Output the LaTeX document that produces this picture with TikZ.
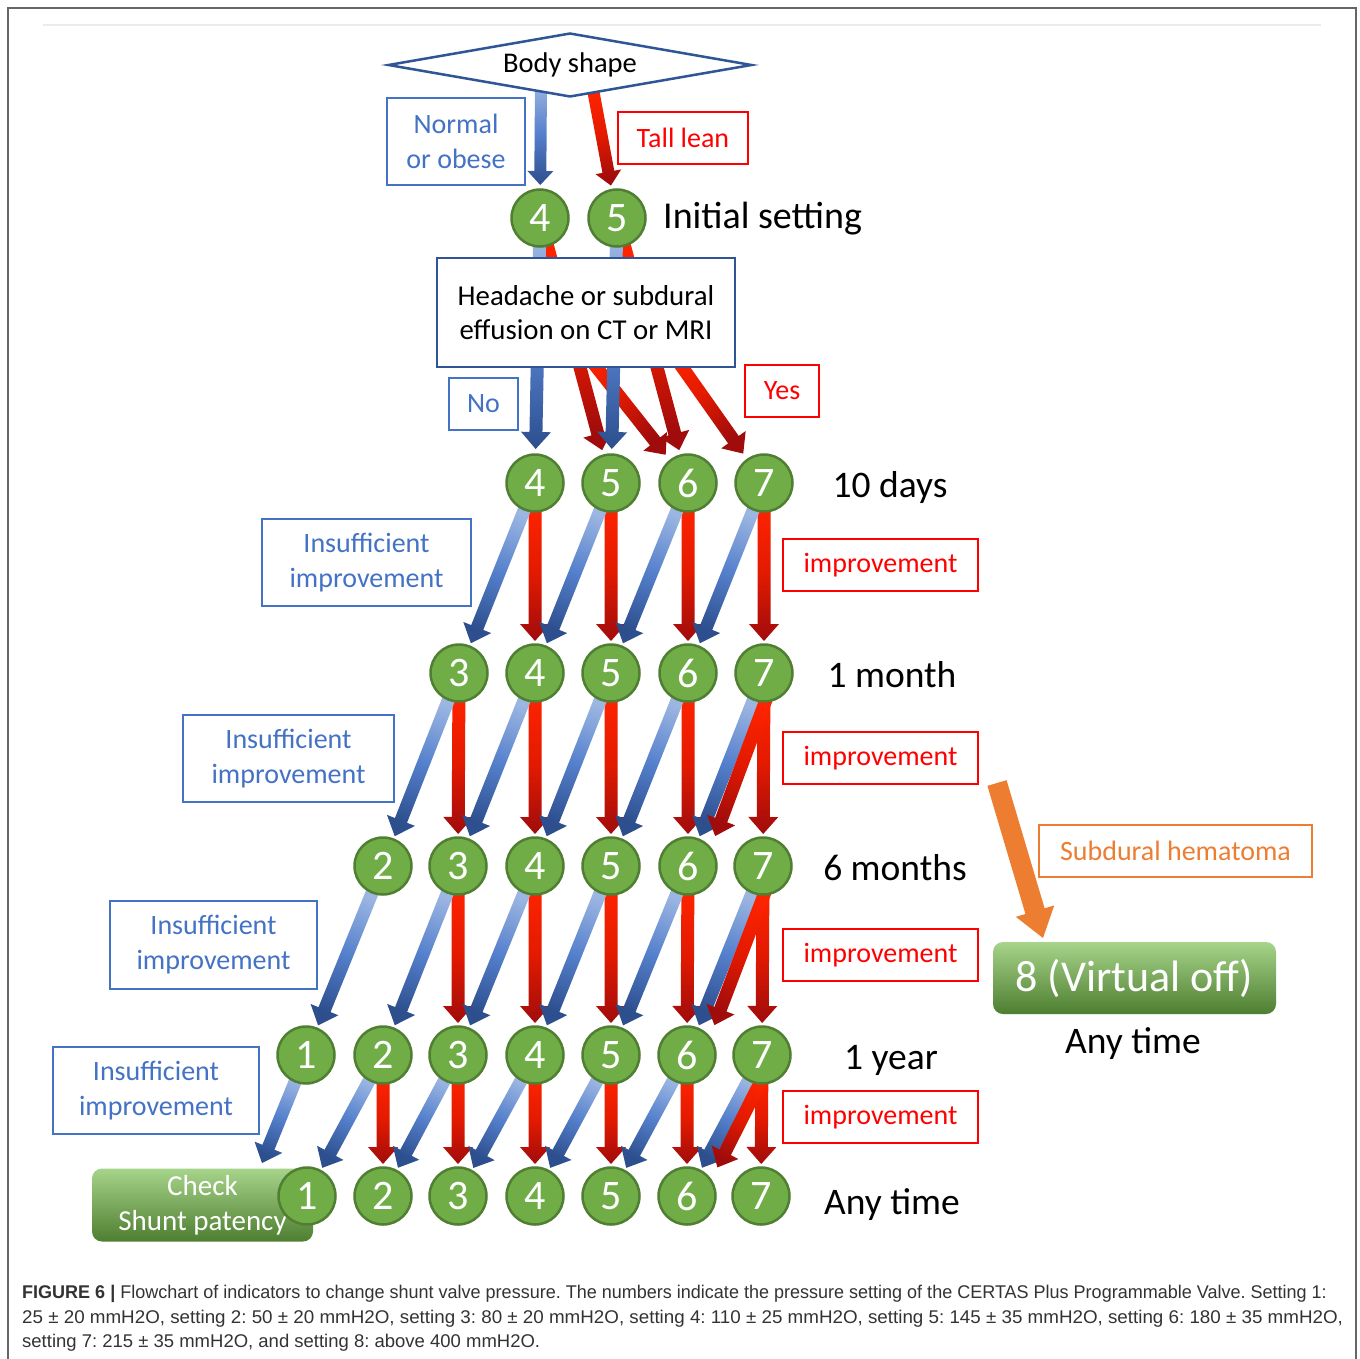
\documentclass[tikz,border=0pt]{standalone}
\usepackage{fontspec}
\setmainfont{Carlito}
\newfontfamily\capfont{Liberation Sans}
\usetikzlibrary{shapes.geometric,calc}
\pgfdeclarelayer{bg}
\pgfdeclarelayer{arrows}
\pgfsetlayers{bg,arrows,main}
\frenchspacing

\definecolor{cgreen}{HTML}{70AD47}
\definecolor{cgreenD}{HTML}{507E32}
\definecolor{lblue}{HTML}{4472C4}
\definecolor{dblue}{HTML}{2F5597}
\definecolor{cred}{HTML}{FF0000}
\definecolor{corange}{HTML}{ED7D31}
\definecolor{bl1}{HTML}{9CB6E2}
\definecolor{bl2}{HTML}{5580CC}
\definecolor{bl3}{HTML}{2D4F8E}
\definecolor{rd1}{HTML}{FF2400}
\definecolor{rd2}{HTML}{E31A00}
\definecolor{rd3}{HTML}{A00C0C}
\definecolor{gtop}{HTML}{A6D48A}
\definecolor{gmid}{HTML}{72B048}
\definecolor{gbot}{HTML}{4E7E30}
\definecolor{capc}{HTML}{333333}
\definecolor{framec}{HTML}{666666}

\newcommand\shaftw{6.5pt}
\newcommand\headw{15pt}
\newcommand\headlen{17}
\newcommand\baSang{0}

\makeatletter
% [style]{from}{to}{start offset}{end offset}
\newcommand\blockarrow[5][]{%
  \pgfpointdiff{\pgfpointanchor{#2}{center}}{\pgfpointanchor{#3}{center}}%
  \edef\ba@dx{\the\pgf@x}\edef\ba@dy{\the\pgf@y}%
  \pgfmathsetmacro\ba@ang{atan2(\ba@dy,\ba@dx)}%
  \pgfmathsetmacro\ba@len{veclen(\ba@dx,\ba@dy)}%
  \pgfmathsetmacro\baSang{\ba@ang+90}%
  \pgfmathsetlengthmacro\ba@e{\ba@len-#5}%
  \pgfmathsetlengthmacro\ba@n{\ba@len-#5-\headlen}%
  \pgfmathsetlengthmacro\ba@s{#4}%
  \begin{scope}[shift={(#2)}, rotate=\ba@ang]
    \path[#1] (\ba@s,\shaftw) -- (\ba@n,\shaftw) -- (\ba@n,\headw)
      -- (\ba@e,0pt) -- (\ba@n,-\headw) -- (\ba@n,-\shaftw) -- (\ba@s,-\shaftw) -- cycle;
  \end{scope}}
\makeatother

\tikzset{
  num/.style={circle, fill=cgreen, draw=cgreenD, line width=2.5pt, minimum size=57pt,
    inner sep=0pt, text=white, font=\fontsize{42}{42}\selectfont},
  lab/.style={line width=2pt, align=center, inner sep=0pt, font=\fontsize{28}{35}\selectfont},
  bluelab/.style={lab, draw=lblue, text=lblue},
  redlab/.style={lab, draw=cred, text=cred},
  orangelab/.style={lab, draw=corange, text=corange},
  rowlab/.style={anchor=base, inner sep=0pt, font=\fontsize{37.5}{37.5}\selectfont},
  gbox/.style={rounded corners=10pt, top color=gtop, middle color=gmid, bottom color=gbot,
    text=white, align=center, inner sep=0pt},
  bluearr/.style={top color=bl1, bottom color=bl3, middle color=bl2, shading angle=\baSang},
  redarr/.style={top color=rd1, bottom color=rd3, middle color=rd2, shading angle=\baSang},
  orangearr/.style={fill=corange},
  capline/.style={anchor=base west, inner sep=0pt, text=capc,
    font=\capfont\fontsize{18.4}{24}\selectfont},
}

\begin{document}
\begin{tikzpicture}[x=1pt,y=-1pt]
\useasboundingbox (0,0) rectangle (1360,1359);
\begin{pgfonlayer}{bg}
\fill[white] (0,0) rectangle (1360,1359);
\end{pgfonlayer}
% frame
\draw[framec, line width=1.5pt] (8,1365) -- (8,8) -- (1356,8) -- (1356,1365);
\draw[black!8, line width=1.5pt] (43,25) -- (1321,25);

% decision nodes
\node[diamond, draw=dblue, line width=2.5pt, fill=white, minimum width=364pt, minimum height=64pt,
  aspect=5.7, inner sep=0pt, font=\fontsize{28.5}{28.5}\selectfont] (body) at (570,65) {Body shape};
\node[draw=dblue, line width=2.5pt, fill=white, minimum width=298pt, minimum height=109pt,
  align=center, inner sep=0pt, font=\fontsize{28.8}{34}\selectfont] (head) at (586,312.5)
  {Headache or subdural\\effusion on CT or MRI};

% helper coordinates (free arrow ends)
\coordinate (bs1) at (541,82);
\coordinate (bs2) at (592,84);
\coordinate (ys1) at (575,340);
\coordinate (ys2) at (663,340);

% circles
\node[num] (i4) at (540,218) {4};
\node[num] (i5) at (617,218) {5};
\foreach \k/\x in {4/535,5/611,6/688,7/764} \node[num] (d\k) at (\x,483) {\k};
\foreach \k/\x in {3/459,4/535,5/611,6/688,7/764} \node[num] (m\k) at (\x,673) {\k};
\foreach \k/\x in {2/383,3/458,4/535,5/611,6/688,7/763} \node[num] (s\k) at (\x,866) {\k};
\foreach \k/\x in {1/306,2/383,3/458,4/535,5/611,6/687,7/762} \node[num] (y\k) at (\x,1055) {\k};
\node[gbox, minimum width=221pt, minimum height=73pt, font=\fontsize{29}{35}\selectfont]
  (check) at (202.5,1205) {Check\\Shunt patency};
\foreach \k/\x in {1/307,2/383,3/458,4/535,5/611,6/687,7/761} \node[num] (a\k) at (\x,1196) {\k};
\coordinate (chk) at (262,1163);

% offset points for the red diagonals 7 -> 6
\coordinate (m7r) at ($(m7)+(12,0)$);
\coordinate (s6r) at ($(s6)+(16,0)$);
\coordinate (s7r) at ($(s7)+(12,0)$);
\coordinate (y6r) at ($(y6)+(16,0)$);
\coordinate (y7r) at ($(y7)+(12,0)$);
\coordinate (a6r) at ($(a6)+(16,0)$);

% labels
\node[bluelab, minimum width=138pt, minimum height=87pt] (lnorm) at (456,141.5) {Normal\\or obese};
\node[redlab, minimum width=130pt, minimum height=52pt] (ltall) at (683,138) {Tall lean};
\node[bluelab, minimum width=69pt, minimum height=52pt] (lno) at (483.5,404) {No};
\node[redlab, minimum width=74pt, minimum height=52pt] (lyes) at (782,391) {Yes};
\node[bluelab, minimum width=209pt, minimum height=87pt] (li1) at (366.5,562.5) {Insufficient\\improvement};
\node[bluelab, minimum width=211pt, minimum height=87pt] (li2) at (288.5,758.5) {Insufficient\\improvement};
\node[bluelab, minimum width=207pt, minimum height=88pt] (li3) at (213.5,945) {Insufficient\\improvement};
\node[bluelab, minimum width=206pt, minimum height=87pt] (li4) at (156,1090.5) {Insufficient\\improvement};
\node[redlab, minimum width=195pt, minimum height=52pt] (lr1) at (880.5,565) {improvement};
\node[redlab, minimum width=195pt, minimum height=52pt] (lr2) at (880.5,758) {improvement};
\node[redlab, minimum width=195pt, minimum height=52pt] (lr3) at (880.5,955) {improvement};
\node[redlab, minimum width=195pt, minimum height=52pt] (lr4) at (880.5,1117) {improvement};
\node[orangelab, minimum width=273pt, minimum height=52pt] (lsub) at (1175.5,851) {Subdural hematoma};

% row labels
\node[anchor=base west, inner sep=0pt, font=\fontsize{38}{38}\selectfont] (tinit) at (663,228.5) {Initial setting};
\node[rowlab] (t10d) at (890,497) {10 days};
\node[rowlab] (t1m) at (892,687) {1 month};
\node[rowlab] (t6m) at (895,880) {6 months};
\node[rowlab] (t1y) at (891,1069) {1 year};
\node[rowlab] (tany) at (892,1214) {Any time};

% virtual off
\node[gbox, minimum width=283pt, minimum height=72pt, font=\fontsize{44}{44}\selectfont]
  (voff) at (1134.5,978) {8 (Virtual off)};
\node[rowlab] (tany2) at (1133,1053) {Any time};
\coordinate (os) at (997,783);
\coordinate (oe) at (1043,938);

% caption
\node[capline] (cap1) at (22,1298) {\scalebox{0.979}[1]{\textbf{FIGURE 6 |} Flowchart of indicators to change shunt valve pressure. The numbers indicate the pressure setting of the CERTAS Plus Programmable Valve. Setting 1:}};
\node[capline] (cap2) at (22,1323) {\scalebox{1.021}[1]{25 ± 20 mmH2O, setting 2: 50 ± 20 mmH2O, setting 3: 80 ± 20 mmH2O, setting 4: 110 ± 25 mmH2O, setting 5: 145 ± 35 mmH2O, setting 6: 180 ± 35 mmH2O,}};
\node[capline] (cap3) at (22,1347) {\scalebox{1.005}[1]{setting 7: 215 ± 35 mmH2O, and setting 8: above 400 mmH2O.}};

% arrows
\begin{pgfonlayer}{arrows}
  {\renewcommand\shaftw{6pt}\renewcommand\headw{13pt}\renewcommand\headlen{14}%
   \blockarrow[bluearr]{bs1}{i4}{0}{33}
   \blockarrow[redarr]{bs2}{i5}{0}{33}}
  % through the headache box
  \blockarrow[redarr]{i4}{d5}{20}{34}
  \blockarrow[redarr]{i5}{d6}{20}{34}
  \blockarrow[redarr]{ys1}{d6}{0}{36}
  \blockarrow[redarr]{ys2}{d7}{0}{36}
  \blockarrow[bluearr]{i4}{d4}{20}{34}
  \blockarrow[bluearr]{i5}{d5}{20}{34}
  % 10 days -> 1 month
  \foreach \k in {4,5,6,7} {\blockarrow[redarr]{d\k}{m\k}{20}{32}}
  \foreach \k/\j in {4/3,5/4,6/5,7/6} {\blockarrow[bluearr]{d\k}{m\j}{20}{32}}
  % 1 month -> 6 months
  \foreach \k in {3,4,5,6,7} {\blockarrow[redarr]{m\k}{s\k}{20}{32}}
  \foreach \k/\j in {3/2,4/3,5/4,6/5,7/6} {\blockarrow[bluearr]{m\k}{s\j}{20}{32}}
  \blockarrow[redarr]{m7r}{s6r}{20}{32}
  % 6 months -> 1 year
  \foreach \k in {3,4,5,6,7} {\blockarrow[redarr]{s\k}{y\k}{20}{32}}
  \foreach \k/\j in {2/1,3/2,4/3,5/4,6/5,7/6} {\blockarrow[bluearr]{s\k}{y\j}{20}{32}}
  \blockarrow[redarr]{s7r}{y6r}{20}{32}
  % 1 year -> any time
  \foreach \k in {2,3,4,5,6,7} {\blockarrow[redarr]{y\k}{a\k}{20}{32}}
  \foreach \k/\j in {2/1,3/2,4/3,5/4,6/5,7/6} {\blockarrow[bluearr]{y\k}{a\j}{20}{32}}
  \blockarrow[bluearr]{y1}{chk}{20}{0}
  \blockarrow[redarr]{y7r}{a6r}{20}{32}
  % subdural hematoma
  {\renewcommand\shaftw{10pt}\renewcommand\headw{20pt}\renewcommand\headlen{28}%
   \blockarrow[orangearr]{os}{oe}{0}{0}}
\end{pgfonlayer}
\end{tikzpicture}
\end{document}
